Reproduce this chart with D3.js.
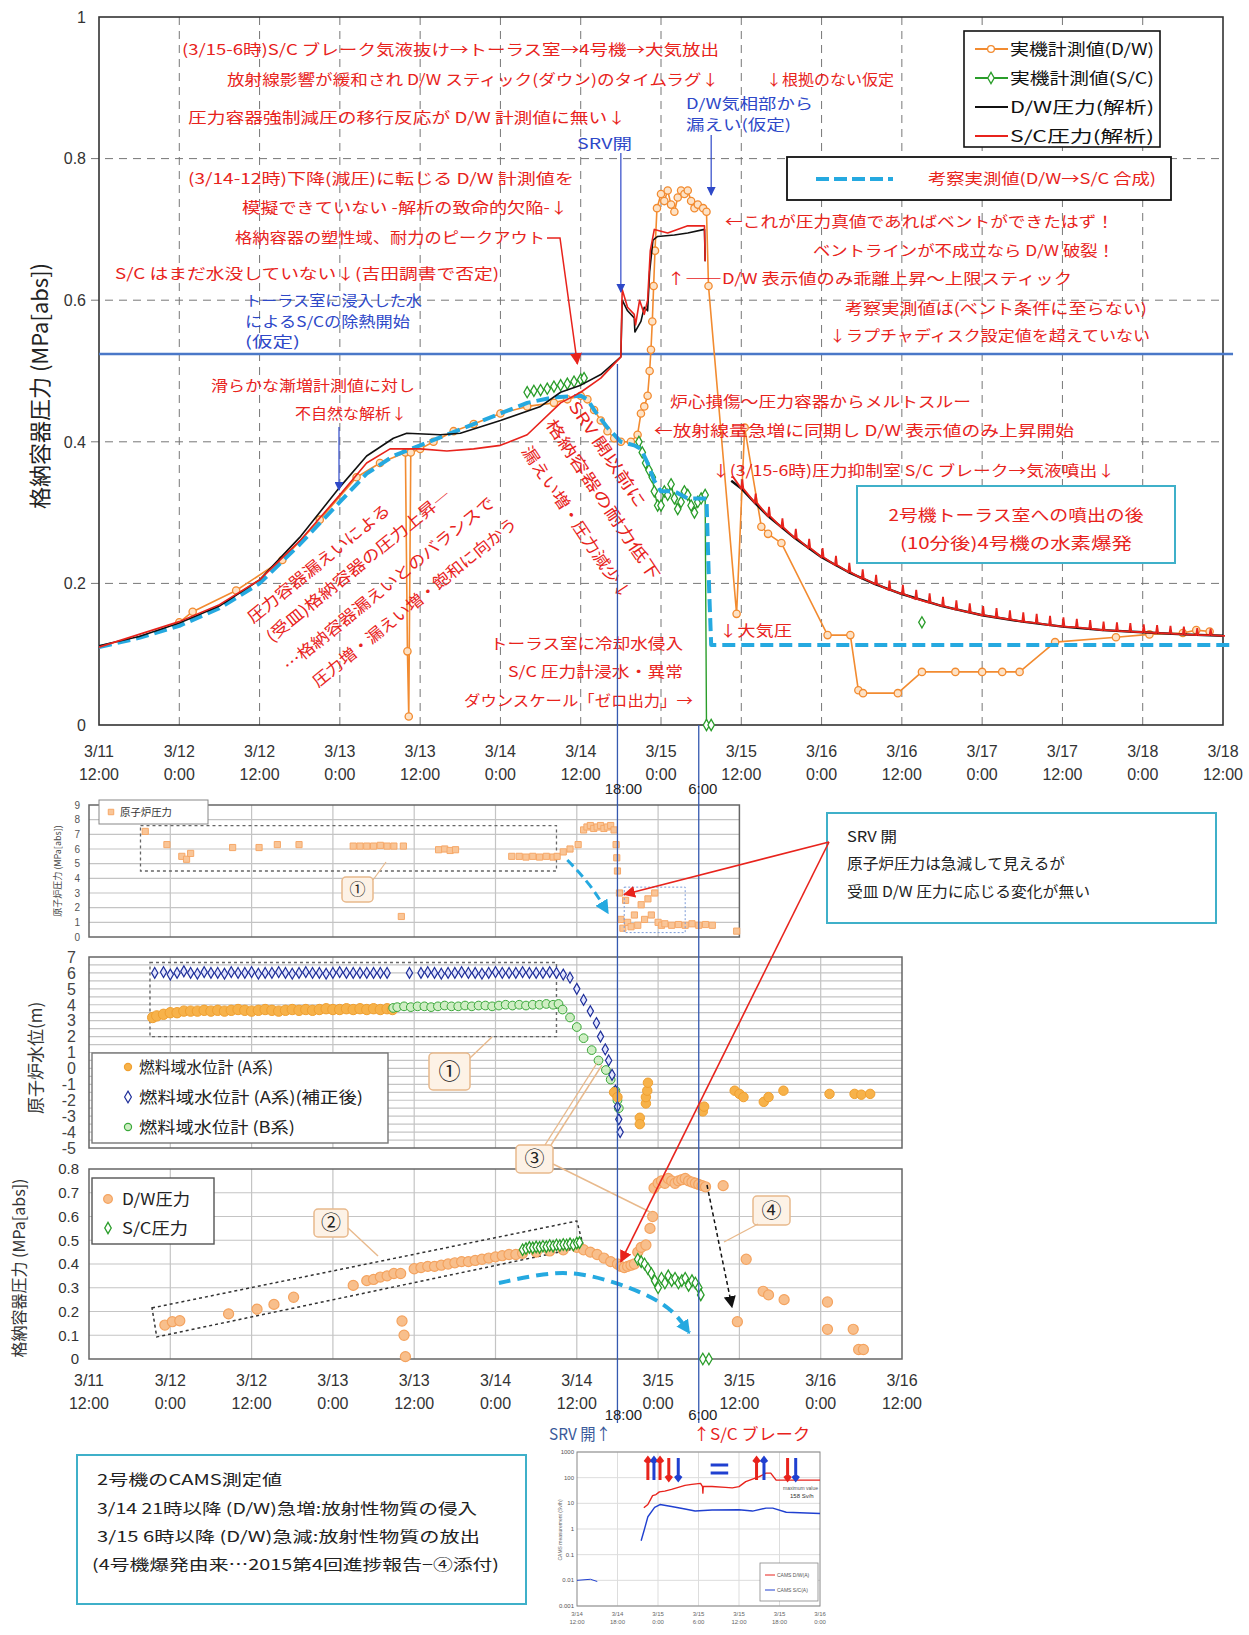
<!DOCTYPE html>
<html>
<head>
<meta charset="utf-8">
<script src="https://cdn.jsdelivr.net/npm/d3@7"></script>
<style>
body { margin: 0; background: #fff; }
svg text { font-family: "Noto Sans CJK JP", "Liberation Sans", sans-serif; }
svg text.num { font-family: "Liberation Sans", "Noto Sans CJK JP", sans-serif; }
</style>
</head>
<body>
<svg id="chart" width="1249" height="1635"></svg>
<script>
// time is in hours after 3/11 12:00
var tickLabels = [["3/11","12:00"],["3/12","0:00"],["3/12","12:00"],["3/13","0:00"],["3/13","12:00"],
  ["3/14","0:00"],["3/14","12:00"],["3/15","0:00"],["3/15","12:00"],["3/16","0:00"],["3/16","12:00"],
  ["3/17","0:00"],["3/17","12:00"],["3/18","0:00"],["3/18","12:00"]];
var mainYTicks = [0, 0.2, 0.4, 0.6, 0.8, 1];
var srvOpenT = 78, scBreakT = 90;
var ruptureDisk = 0.524;

// main chart: measured D/W (orange), measured S/C (green)
var dwMeas = [[12,0.145],[14,0.16],[20.5,0.19],[27.4,0.233],[33,0.29],[38.5,0.35],[42,0.37],[45.8,0.385],
  [46.1,0.104],[46.3,0.012],[46.6,0.385],[48,0.39],[50,0.40],[53,0.415],[56,0.425],[60,0.44],[64,0.45],
  [68,0.455],[70,0.46],[72,0.465],[73,0.46],[74,0.445],[75,0.43],[76,0.415],[77,0.405],[78,0.40],[79.5,0.40],
  [80.5,0.41],[81,0.44],[81.5,0.45],[82,0.465],[82.3,0.5],[82.5,0.53],[82.7,0.57],[82.9,0.62],[83.1,0.67],
  [83.4,0.73],[84,0.75],[84.5,0.74],[85,0.755],[85.5,0.735],[86,0.725],[86.5,0.745],[87,0.755],[87.5,0.75],
  [88,0.755],[88.5,0.74],[89,0.73],[89.5,0.735],[90.3,0.73],[90.8,0.725],[91.1,0.62],[95.3,0.157],[96.5,0.42],
  [99,0.28],[100,0.27],[102,0.257],[108.9,0.127],[112.3,0.127],[113.5,0.049],[114.2,0.045],[119.4,0.045],
  [123,0.075],[128,0.075],[132,0.075],[135,0.075],[137.6,0.075],[142.9,0.117],[152,0.124],[157,0.128],
  [162,0.13],[164,0.134],[166,0.132]];
var scMeasA = [[64,0.47],[65,0.472],[66,0.473],[67,0.475],[68,0.478],[69,0.48],[70,0.482],[71,0.485],[72,0.488],[72.5,0.49]];
var scMeasB = [[80.7,0.40],[81.2,0.385],[81.7,0.37],[82.2,0.36],[82.7,0.35],[83,0.33],[83.5,0.31],[84,0.31],
  [84.5,0.33],[85,0.325],[85.5,0.34],[86,0.32],[86.5,0.305],[87,0.315],[87.5,0.33],[88,0.325],[88.5,0.31],
  [89,0.30],[89.5,0.315],[90,0.32],[90.6,0.325],[90.8,0.0],[91.5,0.0]];
var scMeasIso = [[123,0.145]];
// analysis
var dwCalcA = [[0,0.112],[6,0.125],[12,0.144],[18,0.168],[24,0.205],[30,0.265],[36,0.336],[40,0.38],[44,0.405],
  [46,0.412],[51,0.41],[54,0.412],[60,0.43],[66,0.45],[69,0.47],[72,0.48],[75,0.495],[78,0.52],[78.2,0.60],
  [79,0.585],[80,0.575],[80.1,0.555],[81,0.57],[81.5,0.59],[82,0.585],[82.3,0.64],[82.8,0.685],[83.5,0.69],
  [86,0.692],[88,0.695],[90.5,0.70],[90.6,0.655]];
var dwCalcB = [[94.5,0.345],[96,0.334],[98,0.314],[100,0.295],[104,0.264],[108,0.237],[112,0.216],[116,0.199],
  [120,0.185],[126,0.168],[132,0.155],[138,0.146],[144,0.139],[150,0.134],[156,0.131],[162,0.128],[168,0.126]];
var scCalcA = [[0,0.11],[6,0.128],[12,0.146],[18,0.17],[24,0.205],[30,0.26],[36,0.325],[40,0.37],[43.5,0.39],
  [48,0.39],[52,0.387],[56,0.39],[60,0.395],[64,0.41],[69,0.455],[72,0.47],[75,0.49],[78,0.52],[78.2,0.615],
  [79,0.59],[80,0.58],[80.2,0.565],[80.8,0.6],[81.5,0.58],[82,0.6],[82.4,0.67],[83,0.70],[85,0.695],[88,0.705],
  [90.5,0.705],[90.6,0.655]];
// [t, low, spike top]
var scCalcDecay = [[94.5,0.35,0.35],[96,0.334,0.347],[98,0.314,0.327],[100,0.295,0.308],[102,0.279,0.292],
  [104,0.264,0.277],[106,0.250,0.263],[108,0.237,0.250],[110,0.226,0.239],[112,0.216,0.229],[114,0.207,0.220],
  [116,0.199,0.212],[118,0.191,0.204],[120,0.185,0.198],[122,0.178,0.191],[124,0.173,0.186],[126,0.168,0.181],
  [128,0.163,0.176],[130,0.159,0.172],[132,0.155,0.168],[134,0.152,0.165],[136,0.149,0.162],[138,0.146,0.159],
  [140,0.144,0.157],[142,0.141,0.154],[144,0.139,0.152],[146,0.138,0.150],[148,0.136,0.148],[150,0.134,0.146],
  [152,0.133,0.145],[154,0.132,0.144],[156,0.131,0.142],[158,0.130,0.141],[160,0.129,0.140],[162,0.128,0.139],
  [164,0.127,0.137],[166,0.127,0.136],[168,0.126,0.126]];
// inferred measured value (D/W -> S/C)
var inferred = [[0,0.11],[6,0.123],[12,0.14],[18,0.165],[24,0.2],[30,0.255],[36,0.315],[40,0.355],[44,0.38],
  [48,0.395],[52,0.41],[56,0.425],[60,0.44],[64,0.455],[68,0.463],[72,0.465],[73,0.46],[74,0.445],[76,0.42],
  [78,0.40],[80,0.395],[81,0.39],[82,0.37],[83,0.345],[84,0.33],[86,0.33],[88,0.32],[90.8,0.32],[91.2,0.19],
  [91.5,0.113],[169.5,0.113]];

// panel: reactor pressure
var rpvPressure = [[8.3,7.2],[11.5,6.3],[13.7,5.5],[14.4,5.3],[15,5.7],[21.2,6.1],[25.1,6.1],[27.8,6.3],[31,6.3],
  [39,6.2],[40,6.2],[41,6.2],[42,6.2],[43,6.25],[44,6.2],[45,6.2],[46.4,6.2],[46.1,1.4],
  [51.6,5.95],[52.5,6.0],[53.3,5.9],[54.1,5.95],
  [62.4,5.5],[63.5,5.5],[64.5,5.45],[65.5,5.5],[66.5,5.45],[67.5,5.5],[68.5,5.45],[69.1,5.5],[70,5.8],[71,6.0],[72.2,6.3],
  [73,7.3],[73.5,7.5],[74,7.6],[74.5,7.4],[75,7.5],[75.5,7.6],[76,7.4],[76.5,7.5],[77,7.6],[77.5,7.3],[77.8,6.3],
  [77.9,5.4],[78,4.5],[78.3,3.0],[78.5,1.2],[78.8,0.6],[79.2,2.5],[79.5,1.0],[80,0.7],[80.5,1.5],[81,0.8],
  [81.5,2.2],[82,1.2],[82.5,2.6],[83,1.5],[83.5,3.0],[84,1.0],[84.5,0.8],[85,0.9],[86,0.8],[87,0.85],[88,0.8],
  [89,0.9],[90,0.8],[91,0.85],[92,0.8],[95.6,0.4]];

// panel: reactor water level
var levelA = [[9.4,3.2],[10,3.3],[11,3.4],[12,3.5],[13,3.5],[14,3.6],[15,3.6],[16,3.6],[17,3.65],[18,3.6],
  [19,3.65],[20,3.6],[21,3.65],[22,3.7],[23,3.65],[24,3.6],[25,3.65],[26,3.7],[27,3.65],[28,3.6],[29,3.65],
  [30,3.7],[31,3.65],[32,3.7],[33,3.65],[34,3.7],[35,3.75],[36,3.7],[37,3.7],[38,3.75],[39,3.7],[40,3.75],
  [41,3.7],[42,3.75],[43,3.7],[44,3.75],[44.8,3.7]];
var levelAPost = [[77.5,-1.5],[78,-1.8],[81.3,-3.1],[81.3,-3.5],[82.2,-2.2],[82.2,-1.8],[82.4,-1.4],[82.5,-0.9],
  [90.6,-2.7],[90.8,-2.4],[95.3,-1.4],[96,-1.6],[96.6,-1.8],[99.6,-2.1],[100.3,-1.8],[102.5,-1.4],[109.3,-1.6],
  [113,-1.6],[114,-1.65],[115.3,-1.6]];
var levelACorr = [[9.7,6.0],[11,6.05],[12,5.9],[13,6.0],[14,6.1],[15,6.0],[16,5.95],[17,6.05],[18,6.0],[19,6.0],
  [20,5.95],[21,6.05],[22,6.0],[23,6.0],[24,6.05],[25,5.95],[26,6.0],[27,6.0],[28,6.05],[29,6.0],[30,5.95],
  [31,6.0],[32,6.05],[33,6.0],[34,6.0],[35,5.95],[36,6.0],[37,6.05],[38,6.0],[39,6.0],[40,6.0],[41,6.0],
  [42,6.0],[43,6.0],[44,6.0],[47.3,6.0],[49,6.0],[50,6.05],[51,6.0],[52,5.95],[53,6.0],[54,6.0],[55,6.05],
  [56,6.0],[57,6.0],[58,5.95],[59,6.0],[60,6.05],[61,6.0],[62,6.0],[63,6.0],[64,6.05],[65,6.0],[66,6.0],
  [67,6.0],[68,6.05],[69,6.0],[70,5.9],[71,5.7],[72,5.0],[73,4.3],[74,3.6],[74.9,2.85],[75.5,2.0],[76.2,1.2],
  [76.7,0.5],[77.2,-0.4],[77.7,-1.4],[78,-2.4],[78.2,-3.2],[78.4,-4.0]];
var levelB = [[44.9,3.8],[45.5,3.85],[46.5,3.9],[47.5,3.85],[48.5,3.9],[49.5,3.9],[50.5,3.85],[51.5,3.9],
  [52.5,3.95],[53.5,3.9],[54.5,3.9],[55.5,3.95],[56.5,3.9],[57.5,3.95],[58.5,3.95],[59.5,3.9],[60.5,3.95],
  [61.5,4.0],[62.5,3.95],[63.5,4.0],[64.5,3.95],[65.5,4.0],[66.5,4.0],[67.5,4.05],[68.5,4.0],[69.3,4.05],
  [69.9,3.7],[71,3.2],[72,2.6],[73,1.9],[74.2,1.15],[75.2,0.5],[76.3,-0.1],[77,-0.7],[77.7,-1.4],[78,-2.0],[78.2,-2.5]];

// panel: containment pressure
var cvDW = [[11.2,0.143],[12.3,0.157],[13.4,0.161],[20.6,0.19],[24.8,0.21],[27.3,0.23],[30.2,0.26],[39,0.31],
  [41,0.33],[42,0.335],[43,0.345],[44,0.35],[45,0.36],[46,0.36],[48,0.38],[49,0.385],[50,0.39],[51,0.39],
  [52,0.395],[53,0.40],[54,0.405],[55,0.41],[56,0.41],[57,0.415],[58,0.42],[59,0.425],[60,0.43],[61,0.435],
  [62,0.44],[63,0.44],[64,0.445],[66,0.45],[68,0.455],[70,0.46],[72,0.47],[73,0.46],[74,0.45],[75,0.44],
  [76,0.425],[77,0.41],[78,0.40],[78.5,0.39],[79,0.385],[79.5,0.39],[80,0.395],[80.5,0.40],[81,0.45],[81.5,0.47],
  [82.2,0.48],[82.8,0.55],[83.2,0.6],[83.4,0.72],[84,0.74],[84.5,0.75],[85,0.74],[85.5,0.76],[86,0.75],
  [86.5,0.74],[87,0.75],[87.5,0.755],[88,0.76],[88.5,0.75],[89,0.745],[89.5,0.74],[90,0.735],[90.5,0.73],
  [91,0.725],[93.6,0.73],[95.7,0.157],[97,0.42],[99.5,0.285],[100.3,0.27],[102.6,0.25],[109,0.24],[109,0.125],
  [112.8,0.125],[113.6,0.04],[114.3,0.04],[46.2,0.16],[46.5,0.10],[46.7,0.01]];
var cvSC = [[64,0.46],[64.5,0.465],[65,0.47],[65.5,0.468],[66,0.472],[66.5,0.47],[67,0.475],[67.5,0.473],
  [68,0.478],[68.5,0.475],[69,0.48],[69.5,0.478],[70,0.482],[70.5,0.48],[71,0.485],[71.5,0.48],[72,0.488],
  [72.4,0.49],[81,0.42],[81.5,0.41],[82,0.40],[82.5,0.38],[83,0.36],[83.5,0.33],[84,0.30],[84.5,0.34],
  [85,0.32],[85.5,0.35],[86,0.33],[86.5,0.34],[87,0.32],[87.5,0.33],[88,0.34],[88.5,0.31],[89,0.33],
  [89.5,0.32],[90,0.30],[90.3,0.27],[90.6,0.0],[91.5,0.0]];
var cvInferred = [[60.5,0.32],[67.3,0.362],[72.5,0.366],[80,0.303],[86,0.219],[88.6,0.11]];

// CAMS inset: hours after 3/14 12:00, Sv/h
var camsTickLabels = [["3/14","12:00"],["3/14","18:00"],["3/15","0:00"],["3/15","6:00"],["3/15","12:00"],["3/15","18:00"],["3/16","0:00"]];
var camsYTicks = [0.001, 0.01, 0.1, 1, 10, 100, 1000];
var camsDW = [[9.9,6.7],[10.5,9],[11.2,20],[11.7,22],[12.2,28],[13,30],[14,35],[15,42],[16,50],[17,55],
  [18.3,60],[18.6,45],[18.65,25],[18.7,45],[20,45],[22,42],[23,40],[24,45],[25,70],[27,110],[28,150],
  [28.7,150],[29.5,80],[31,80],[36,80]];
var camsSCEarly = [[0,0.01],[2,0.011],[3,0.009]];
var camsSC = [[9.5,0.35],[10,1],[10.5,3],[11.5,7],[12.3,9],[14,7.5],[16,6],[17.5,5],[20,5.5],[24,5.6],
  [26,5],[28,6.5],[29,6.5],[31,4.5],[36,4]];
var camsArrows = [[10.5,1,"#e8231c"],[11.4,1,"#2040d0"],[12.3,1,"#e8231c"],[13.6,-1,"#e8231c"],[15,-1,"#2040d0"],
  [26.6,1,"#e8231c"],[27.7,1,"#2040d0"],[31.2,-1,"#e8231c"],[32.4,-1,"#2040d0"]];

var RED = "#e8231c", BLUE = "#2e48c8", ORANGE = "#f28b30", GREEN = "#2a9d2a", CYAN = "#25a9e0", BOX = "#3fb0c9";

var svg = d3.select("#chart");
var defs = svg.append("defs");
function arrowMarker(id, color, size) {
  defs.append("marker").attr("id", id).attr("viewBox", "0 0 10 10")
      .attr("refX", 9).attr("refY", 5).attr("markerWidth", size).attr("markerHeight", size)
      .attr("markerUnits", "userSpaceOnUse").attr("orient", "auto")
    .append("path").attr("d", "M0,0L10,5L0,10z").attr("fill", color);
}
arrowMarker("arRed", RED, 12);
arrowMarker("arBlue", BLUE, 9);
arrowMarker("arBlack", "#111", 12);
arrowMarker("arCyan", CYAN, 14);

function note(g, txt, x, cy, w, color, size, anchor, cls) {
  var t = g.append("text").attr("x", x).attr("y", cy).attr("dy", "0.36em")
      .attr("fill", color).attr("font-size", size).text(txt);
  if (w) t.attr("textLength", w).attr("lengthAdjust", "spacingAndGlyphs");
  if (anchor) t.attr("text-anchor", anchor);
  if (cls) t.attr("class", cls);
  return t;
}
function rotNote(g, txt, x, y, angle, w, color, size) {
  g.append("text").attr("transform", "translate(" + x + "," + y + ") rotate(" + angle + ")")
      .attr("fill", color).attr("font-size", size)
      .attr("textLength", w).attr("lengthAdjust", "spacingAndGlyphs").text(txt);
}
function drawLine(g, data, xs, ys, color, width, dash) {
  var p = g.append("path").datum(data).attr("fill", "none").attr("stroke", color)
      .attr("stroke-width", width).attr("stroke-linejoin", "round")
      .attr("d", d3.line().x(function(d) { return xs(d[0]); }).y(function(d) { return ys(d[1]); }));
  if (dash) p.attr("stroke-dasharray", dash);
  return p;
}
function drawDots(g, data, xs, ys, type, size, stroke, fill, sw) {
  g.selectAll(null).data(data).enter().append("path")
      .attr("transform", function(d) { return "translate(" + xs(d[0]) + "," + ys(d[1]) + ")"; })
      .attr("d", d3.symbol().type(type).size(size))
      .attr("fill", fill).attr("stroke", stroke).attr("stroke-width", sw || 1);
}
function box(g, x, y, w, h, color, width, rx) {
  return g.append("rect").attr("x", x).attr("y", y).attr("width", w).attr("height", h)
      .attr("rx", rx || 0).attr("fill", "#fff").attr("stroke", color).attr("stroke-width", width);
}
function arrow(g, pts, color, width, marker, dash) {
  var p = g.append("path").attr("d", d3.line()(pts)).attr("fill", "none")
      .attr("stroke", color).attr("stroke-width", width);
  if (marker) p.attr("marker-end", "url(#" + marker + ")");
  if (dash) p.attr("stroke-dasharray", dash);
}

// ================= main chart =================
var xMain = d3.scaleLinear().domain([0, 168]).range([99, 1223]);
var yMain = d3.scaleLinear().domain([0, 1]).range([725, 17]);
var gMain = svg.append("g");

gMain.selectAll("line.vg").data(d3.range(12, 168, 12)).enter().append("line")
    .attr("x1", function(d) { return xMain(d); }).attr("x2", function(d) { return xMain(d); })
    .attr("y1", yMain(1)).attr("y2", yMain(0) + 6)
    .attr("stroke", "#777").attr("stroke-dasharray", "8,6");
gMain.selectAll("line.hg").data([0.2, 0.4, 0.6, 0.8]).enter().append("line")
    .attr("x1", xMain(0) - 8).attr("x2", xMain(168))
    .attr("y1", function(d) { return yMain(d); }).attr("y2", function(d) { return yMain(d); })
    .attr("stroke", "#777").attr("stroke-dasharray", "8,6");
gMain.append("rect").attr("x", xMain(0)).attr("y", yMain(1)).attr("width", xMain(168) - xMain(0))
    .attr("height", yMain(0) - yMain(1)).attr("fill", "none").attr("stroke", "#333").attr("stroke-width", 1.6);

gMain.selectAll("text.yt").data(mainYTicks).enter().append("text").attr("class", "num")
    .attr("x", 86).attr("y", function(d) { return yMain(d); }).attr("dy", "0.36em")
    .attr("text-anchor", "end").attr("font-size", 16).attr("fill", "#333").text(function(d) { return d; });
tickLabels.forEach(function(l, i) {
  note(gMain, l[0], xMain(i * 12), 751, null, "#333", 16, "middle", "num");
  note(gMain, l[1], xMain(i * 12), 774, null, "#333", 16, "middle", "num");
});
gMain.append("text").attr("transform", "translate(40,386) rotate(-90)").attr("text-anchor", "middle")
    .attr("dy", "0.36em").attr("font-size", 22).attr("fill", "#222").text("格納容器圧力 (MPa[abs])");

// rupture disk level
gMain.append("line").attr("x1", xMain(0)).attr("x2", xMain(169.5))
    .attr("y1", yMain(ruptureDisk)).attr("y2", yMain(ruptureDisk))
    .attr("stroke", "#4a78c8").attr("stroke-width", 2.5);

drawLine(gMain, dwMeas, xMain, yMain, ORANGE, 1.6);
drawDots(gMain, dwMeas, xMain, yMain, d3.symbolCircle, 42, ORANGE, "#fde2c6", 1.3);
drawLine(gMain, scMeasA, xMain, yMain, GREEN, 1.4);
drawLine(gMain, scMeasB, xMain, yMain, GREEN, 1.4);
drawDots(gMain, scMeasA.concat(scMeasB, scMeasIso), xMain, yMain, d3.symbolDiamond, 36, GREEN, "#fff", 1.3);
drawLine(gMain, inferred, xMain, yMain, CYAN, 4, "13,6");
drawLine(gMain, dwCalcA, xMain, yMain, "#111", 1.6);
drawLine(gMain, dwCalcB, xMain, yMain, "#111", 2.4);
drawLine(gMain, scCalcA, xMain, yMain, RED, 1.6);
gMain.append("path").datum(scCalcDecay).attr("fill", "none").attr("stroke", RED).attr("stroke-width", 1.8)
    .attr("d", function(d) {
      var s = "";
      d.forEach(function(p, i) {
        s += (i ? "L" : "M") + xMain(p[0]) + "," + yMain(p[1]);
        s += "L" + xMain(p[0] + 0.15) + "," + yMain(p[2]) + "L" + xMain(p[0] + 0.3) + "," + yMain(p[1]);
      });
      return s;
    });

// legends
box(gMain, 964, 31, 196, 116, "#111", 1.6);
var legendItems = [["実機計測値(D/W)", ORANGE, d3.symbolCircle], ["実機計測値(S/C)", GREEN, d3.symbolDiamond],
  ["D/W圧力(解析)", "#111", null], ["S/C圧力(解析)", RED, null]];
legendItems.forEach(function(it, i) {
  var cy = 49 + i * 29;
  gMain.append("line").attr("x1", 975).attr("x2", 1008).attr("y1", cy).attr("y2", cy)
      .attr("stroke", it[1]).attr("stroke-width", 2);
  if (it[2]) drawDots(gMain, [[0, 0]], function() { return 991; }, function() { return cy; }, it[2], 36, it[1], "#fff", 1.3);
  note(gMain, it[0], 1010, cy, 144, "#111", 16);
});
box(gMain, 787, 157, 384, 43, "#111", 1.8);
gMain.append("line").attr("x1", 816).attr("x2", 893).attr("y1", 179).attr("y2", 179)
    .attr("stroke", CYAN).attr("stroke-width", 4).attr("stroke-dasharray", "13,5");
note(gMain, "考察実測値(D/W→S/C 合成)", 928, 179, 228, RED, 15);

// red notes
var redNotes = [
  ["(3/15-6時)S/C ブレーク気液抜け→トーラス室→4号機→大気放出", 182, 50, 537],
  ["放射線影響が緩和され D/W スティック(ダウン)のタイムラグ↓", 227, 80, 492],
  ["↓根拠のない仮定", 766, 80, 128],
  ["圧力容器強制減圧の移行反応が D/W 計測値に無い↓", 188, 118, 438],
  ["(3/14-12時)下降(減圧)に転じる D/W 計測値を", 188, 179, 386],
  ["模擬できていない -解析の致命的欠陥-↓", 242, 208, 326],
  ["格納容器の塑性域、耐力のピークアウト", 235, 238, 310],
  ["S/C はまだ水没していない↓(吉田調書で否定)", 115, 274, 384],
  ["←これが圧力真値であればベントができたはず！", 725, 222, 389],
  ["ベントラインが不成立なら D/W 破裂！", 813, 251, 302],
  ["↑――D/W 表示値のみ乖離上昇〜上限スティック", 667, 279, 405],
  ["考察実測値は(ベント条件に至らない)", 845, 309, 302],
  ["↓ラプチャディスク設定値を超えていない", 829, 336, 321],
  ["滑らかな漸増計測値に対し", 211, 386, 204],
  ["不自然な解析↓", 295, 414, 112],
  ["炉心損傷〜圧力容器からメルトスルー", 670, 402, 301],
  ["←放射線量急増に同期し D/W 表示値のみ上昇開始", 654, 431, 420],
  ["↓(3/15-6時)圧力抑制室 S/C ブレーク→気液噴出↓", 712, 471, 403],
  ["トーラス室に冷却水侵入", 490, 644, 193],
  ["S/C 圧力計浸水・異常", 508, 672, 175],
  ["ダウンスケール「ゼロ出力」→", 464, 701, 229],
  ["↓大気圧", 719, 631, 73]
];
redNotes.forEach(function(n) { note(gMain, n[0], n[1], n[2], n[3], RED, 15); });
var blueNotes = [
  ["SRV開", 577, 144, 55], ["D/W気相部から", 686, 104, 127], ["漏えい(仮定)", 686, 125, 105],
  ["トーラス室に浸入した水", 245, 301, 177], ["によるS/Cの除熱開始", 245, 322, 165], ["(仮定)", 245, 342, 55]
];
blueNotes.forEach(function(n) { note(gMain, n[0], n[1], n[2], n[3], BLUE, 14.5); });

rotNote(gMain, "圧力容器漏えいによる", 253, 624, -39, 178, RED, 16);
rotNote(gMain, "(受皿)格納容器の圧力上昇―", 272, 643, -39, 232, RED, 16);
rotNote(gMain, "…格納容器漏えいとのバランスで", 289, 672, -39, 266, RED, 16);
rotNote(gMain, "圧力増・漏えい増・飽和に向かう", 318, 688, -39, 258, RED, 16);
rotNote(gMain, "SRV 開以前に", 568, 406, 56, 124, RED, 16);
rotNote(gMain, "格納容器の耐力低下", 545, 424, 56, 190, RED, 16);
rotNote(gMain, "漏えい増・圧力減少↓", 521, 451, 56, 180, RED, 16);

box(gMain, 857, 486, 318, 77, BOX, 2);
note(gMain, "2号機トーラス室への噴出の後", 1016, 515, 255, RED, 16, "middle");
note(gMain, "(10分後)4号機の水素爆発", 1016, 543, 232, RED, 16, "middle");

// annotation arrows
arrow(gMain, [[547, 238], [560, 238], [xMain(71.5), yMain(0.51)]], RED, 1.5, "arRed");
arrow(gMain, [[339, 427], [339, 490]], BLUE, 1.2, "arBlue");
arrow(gMain, [[xMain(srvOpenT), 153], [xMain(srvOpenT), 292]], BLUE, 1.2, "arBlue");
arrow(gMain, [[xMain(91.5), 135], [xMain(91.5), 195]], BLUE, 1.2, "arBlue");

// ================= lower panels =================
var xLow = d3.scaleLinear().domain([0, 120]).range([89, 902]);
var gLow = svg.append("g");
var GRID = "#c4c4c4";

function panelGrid(g, yScale, yVals, tEnd) {
  g.selectAll(null).data(yVals).enter().append("line")
      .attr("x1", xLow(0)).attr("x2", xLow(tEnd))
      .attr("y1", function(d) { return yScale(d); }).attr("y2", function(d) { return yScale(d); })
      .attr("stroke", GRID).attr("stroke-width", 1.2);
  g.selectAll(null).data(d3.range(12, tEnd, 12)).enter().append("line")
      .attr("x1", function(d) { return xLow(d); }).attr("x2", function(d) { return xLow(d); })
      .attr("y1", yScale.range()[1]).attr("y2", yScale.range()[0])
      .attr("stroke", GRID).attr("stroke-width", 1.2);
  g.append("rect").attr("x", xLow(0)).attr("y", yScale.range()[1]).attr("width", xLow(tEnd) - xLow(0))
      .attr("height", yScale.range()[0] - yScale.range()[1]).attr("fill", "none")
      .attr("stroke", "#666").attr("stroke-width", 1.5);
}
function callout(g, label, x, y, w, h, size) {
  g.append("rect").attr("x", x).attr("y", y).attr("width", w).attr("height", h).attr("rx", 4)
      .attr("fill", "#fdf2e6").attr("stroke", "#e8b98c").attr("stroke-width", 1.5);
  note(g, label, x + w / 2, y + h / 2, null, "#222", size, "middle");
}

// reactor pressure panel
var y2 = d3.scaleLinear().domain([0, 9]).range([937, 805]);
var g2 = gLow.append("g");
panelGrid(g2, y2, d3.range(1, 9), 96);
g2.selectAll(null).data(d3.range(0, 10)).enter().append("text").attr("class", "num")
    .attr("x", 80).attr("y", function(d) { return y2(d); }).attr("dy", "0.36em")
    .attr("text-anchor", "end").attr("font-size", 10).attr("fill", "#555").text(function(d) { return d; });
g2.append("text").attr("transform", "translate(58,871) rotate(-90)").attr("text-anchor", "middle")
    .attr("dy", "0.36em").attr("font-size", 9).attr("fill", "#444").text("原子炉圧力 (MPa[abs])");
g2.append("path").attr("d", d3.line()([[xLow(7.6), y2(7.6)], [xLow(69), y2(7.6)], [xLow(69), y2(4.5)], [xLow(7.6), y2(4.5)]]) + "Z")
    .attr("fill", "none").attr("stroke", "#666").attr("stroke-width", 1.3).attr("stroke-dasharray", "3,3");
drawDots(g2, rpvPressure, xLow, y2, d3.symbolSquare, 38, "#f6a868", "#f9c597", 1);
box(g2, 99, 800, 109, 24, "#888", 1);
drawDots(g2, [[0, 0]], function() { return 111; }, function() { return 812; }, d3.symbolSquare, 30, "#f6a868", "#f9c597", 1);
note(g2, "原子炉圧力", 120, 812, 52, "#333", 10);
callout(g2, "①", 342, 877, 31, 25, 16);
arrow(g2, [[373, 880], [386, 862]], "#e8b98c", 1.2);
g2.append("path").attr("d", d3.line().curve(d3.curveBasis)([[xLow(70.6), y2(5.25)], [xLow(74), y2(3.6)], [xLow(76.6), y2(1.64)]]))
    .attr("fill", "none").attr("stroke", CYAN).attr("stroke-width", 3).attr("stroke-dasharray", "9,5")
    .attr("marker-end", "url(#arCyan)");
g2.append("rect").attr("x", xLow(79)).attr("y", y2(3.4)).attr("width", xLow(88) - xLow(79))
    .attr("height", y2(0.3) - y2(3.4)).attr("fill", "none").attr("stroke", "#7c9cd8")
    .attr("stroke-width", 1).attr("stroke-dasharray", "2,2");

// water level panel
var y3 = d3.scaleLinear().domain([-5, 7]).range([1148, 957]);
var g3 = gLow.append("g");
panelGrid(g3, y3, d3.range(-4.5, 7, 0.5), 120);
g3.selectAll(null).data(d3.range(-5, 8)).enter().append("text").attr("class", "num")
    .attr("x", 76).attr("y", function(d) { return y3(d); }).attr("dy", "0.36em")
    .attr("text-anchor", "end").attr("font-size", 16).attr("fill", "#444").text(function(d) { return d; });
g3.append("text").attr("transform", "translate(36,1058) rotate(-90)").attr("text-anchor", "middle")
    .attr("dy", "0.36em").attr("font-size", 17).attr("fill", "#333").text("原子炉水位(m)");
g3.append("path").attr("d", d3.line()([[xLow(9), y3(6.65)], [xLow(69), y3(6.65)], [xLow(69), y3(2.0)], [xLow(9), y3(2.0)]]) + "Z")
    .attr("fill", "none").attr("stroke", "#666").attr("stroke-width", 1.4).attr("stroke-dasharray", "3,3");
drawDots(g3, levelA, xLow, y3, d3.symbolCircle, 85, "#f0a030", "#f7b24a", 1);
drawDots(g3, levelB, xLow, y3, d3.symbolCircle, 60, "#3aa83a", "#cfeec4", 1);
drawDots(g3, levelACorr, xLow, y3, d3.symbolDiamond, 34, "#1f2f9a", "#e3e6ff", 1.2);
drawDots(g3, levelAPost, xLow, y3, d3.symbolCircle, 70, "#f0a030", "#f7b24a", 1);
box(g3, 92, 1053, 296, 90, "#777", 1.4);
var lvLegend = [["燃料域水位計 (A系)", "#f0a030", "#f7b24a", d3.symbolCircle, 134],
  ["燃料域水位計 (A系)(補正後)", "#1f2f9a", "#fff", d3.symbolDiamond, 224],
  ["燃料域水位計 (B系)", "#3aa83a", "#cfeec4", d3.symbolCircle, 156]];
lvLegend.forEach(function(it, i) {
  var cy = 1067 + i * 30;
  drawDots(g3, [[0, 0]], function() { return 128; }, function() { return cy; }, it[3], 40, it[1], it[2], 1.2);
  note(g3, it[0], 139, cy, it[4], "#222", 16);
});
callout(g3, "①", 429, 1053, 41, 37, 22);
arrow(g3, [[470, 1058], [492, 1037]], "#e8b98c", 1.4);

// containment pressure panel
var y4 = d3.scaleLinear().domain([0, 0.8]).range([1359, 1169]);
var g4 = gLow.append("g");
panelGrid(g4, y4, d3.range(0.1, 0.8, 0.1), 120);
g4.selectAll(null).data(d3.range(0, 9)).enter().append("text").attr("class", "num")
    .attr("x", 79).attr("y", function(d) { return y4(d / 10); }).attr("dy", "0.36em")
    .attr("text-anchor", "end").attr("font-size", 15).attr("fill", "#333")
    .text(function(d) { return d === 0 ? "0" : (d / 10).toFixed(1); });
g4.append("text").attr("transform", "translate(19,1268) rotate(-90)").attr("text-anchor", "middle")
    .attr("dy", "0.36em").attr("font-size", 16).attr("fill", "#333").text("格納容器圧力 (MPa[abs])");
tickLabels.slice(0, 11).forEach(function(l, i) {
  note(g4, l[0], xLow(i * 12), 1380, null, "#333", 16, "middle", "num");
  note(g4, l[1], xLow(i * 12), 1403, null, "#333", 16, "middle", "num");
});
g4.append("path").attr("d", d3.line()([[xLow(9.3), y4(0.215)], [xLow(72), y4(0.581)], [xLow(73), y4(0.472)], [xLow(10), y4(0.093)]]) + "Z")
    .attr("fill", "none").attr("stroke", "#333").attr("stroke-width", 1.5).attr("stroke-dasharray", "3,3");
g4.append("path").datum(cvInferred).attr("fill", "none").attr("stroke", CYAN).attr("stroke-width", 4)
    .attr("stroke-dasharray", "12,7").attr("marker-end", "url(#arCyan)")
    .attr("d", d3.line().curve(d3.curveBasis).x(function(d) { return xLow(d[0]); }).y(function(d) { return y4(d[1]); }));
drawDots(g4, cvDW, xLow, y4, d3.symbolCircle, 80, "#f4a35f", "#f8bf8c", 1.2);
drawDots(g4, cvSC, xLow, y4, d3.symbolDiamond, 38, GREEN, "#fff", 1.3);
box(g4, 92, 1178, 122, 66, "#555", 1.4);
drawDots(g4, [[0, 0]], function() { return 108; }, function() { return 1199; }, d3.symbolCircle, 60, "#f4a35f", "#f8bf8c", 1.2);
note(g4, "D/W圧力", 122, 1199, 68, "#222", 16);
drawDots(g4, [[0, 0]], function() { return 108; }, function() { return 1228; }, d3.symbolDiamond, 36, GREEN, "#fff", 1.3);
note(g4, "S/C圧力", 122, 1228, 66, "#222", 16);
callout(g4, "②", 314, 1209, 34, 28, 20);
arrow(g4, [[348, 1228], [378, 1256]], "#e8b98c", 1.4);
callout(g4, "③", 516, 1145, 37, 28, 20);
arrow(g4, [[545, 1145], [597, 1063]], "#e8b98c", 1.4);
arrow(g4, [[551, 1145], [602, 1065]], "#e8b98c", 1.4);
arrow(g4, [[553, 1164], [652, 1213]], "#e8b98c", 1.4);
callout(g4, "④", 753, 1196, 37, 29, 20);
arrow(g4, [[758, 1224], [724, 1242]], "#e8b98c", 1.4);
arrow(g4, [[707, 1185], [732, 1307]], "#111", 1.5, "arBlack", "4,3");

// event lines across panels
var gEv = svg.append("g");
gEv.append("line").attr("x1", xLow(srvOpenT)).attr("x2", xLow(srvOpenT)).attr("y1", yMain(0.51)).attr("y2", 1423)
    .attr("stroke", "#3559b0").attr("stroke-width", 1.3);
gEv.append("line").attr("x1", xLow(scBreakT)).attr("x2", xLow(scBreakT)).attr("y1", yMain(0)).attr("y2", 1423)
    .attr("stroke", "#3559b0").attr("stroke-width", 1.3);
note(gEv, "18:00", xLow(srvOpenT) + 6, 789, null, "#222", 15, "middle", "num");
note(gEv, "6:00", xLow(scBreakT) + 4, 789, null, "#222", 15, "middle", "num");
note(gEv, "18:00", xLow(srvOpenT) + 6, 1415, null, "#222", 15, "middle", "num");
note(gEv, "6:00", xLow(scBreakT) + 4, 1415, null, "#222", 15, "middle", "num");
note(gEv, "SRV 開↑", 549, 1434, 62, "#3a5a9a", 16);
note(gEv, "↑S/C ブレーク", 693, 1434, 117, RED, 16);

// SRV box with arrows
box(gEv, 827, 813, 389, 110, BOX, 2);
note(gEv, "SRV 開", 847, 837, 50, "#222", 15);
note(gEv, "原子炉圧力は急減して見えるが", 847, 864, 218, "#222", 15);
note(gEv, "受皿 D/W 圧力に応じる変化が無い", 847, 892, 243, "#222", 15);
arrow(gEv, [[829, 842], [xLow(79), y2(2.9)]], RED, 1.6, "arRed");
arrow(gEv, [[829, 842], [xLow(78.5), y4(0.41)]], RED, 1.6, "arRed");

// CAMS text box
box(gEv, 77, 1455, 449, 149, BOX, 2);
note(gEv, "2号機のCAMS測定値", 97, 1480, 185, "#222", 15);
note(gEv, "3/14 21時以降 (D/W)急増:放射性物質の侵入", 97, 1509, 380, "#222", 15);
note(gEv, "3/15  6時以降 (D/W)急減:放射性物質の放出", 97, 1537, 383, "#222", 15);
note(gEv, "(4号機爆発由来…2015第4回進捗報告−④添付)", 92, 1565, 407, "#222", 15);

// ================= CAMS inset =================
var xC = d3.scaleLinear().domain([0, 36]).range([577, 820]);
var yC = d3.scaleLog().domain([0.001, 1000]).range([1606, 1452]);
var gC = svg.append("g");
gC.selectAll(null).data(camsYTicks).enter().append("line")
    .attr("x1", xC(0)).attr("x2", xC(36)).attr("y1", function(d) { return yC(d); }).attr("y2", function(d) { return yC(d); })
    .attr("stroke", "#ddd");
gC.selectAll(null).data(d3.range(6, 36, 6)).enter().append("line")
    .attr("x1", function(d) { return xC(d); }).attr("x2", function(d) { return xC(d); })
    .attr("y1", yC(1000)).attr("y2", yC(0.001)).attr("stroke", "#ddd");
gC.append("rect").attr("x", xC(0)).attr("y", yC(1000)).attr("width", xC(36) - xC(0))
    .attr("height", yC(0.001) - yC(1000)).attr("fill", "none").attr("stroke", "#888");
gC.selectAll(null).data(camsYTicks).enter().append("text").attr("class", "num")
    .attr("x", xC(0) - 3).attr("y", function(d) { return yC(d); }).attr("dy", "0.36em")
    .attr("text-anchor", "end").attr("font-size", 6).attr("fill", "#555").text(function(d) { return d; });
camsTickLabels.forEach(function(l, i) {
  note(gC, l[0], xC(i * 6), 1614, null, "#666", 6, "middle", "num");
  note(gC, l[1], xC(i * 6), 1622, null, "#666", 6, "middle", "num");
});
gC.append("text").attr("class", "num").attr("transform", "translate(562,1530) rotate(-90)").attr("text-anchor", "middle")
    .attr("font-size", 5).attr("fill", "#666").text("CAMS measurement (Sv/h)");
drawLine(gC, camsDW, xC, yC, RED, 1.4);
drawLine(gC, camsSC, xC, yC, "#2040d0", 1.4);
drawLine(gC, camsSCEarly, xC, yC, "#2040d0", 1);
note(gC, "maximum value", 783, 1488, null, "#555", 5, null, "num");
note(gC, "158 Sv/h", 790, 1496, null, "#333", 6, null, "num");
gC.selectAll(null).data(camsArrows).enter().append("path")
    .attr("d", function(d) {
      var x = xC(d[0]), y0 = d[1] > 0 ? 1480 : 1458, y1 = d[1] > 0 ? 1458 : 1480;
      return "M" + x + "," + y0 + "L" + x + "," + y1 + "M" + (x - 3) + "," + (y1 + 4 * d[1]) + "L" + x + "," + y1 + "L" + (x + 3) + "," + (y1 + 4 * d[1]);
    })
    .attr("stroke", function(d) { return d[2]; }).attr("stroke-width", 3).attr("fill", "none");
gC.append("path").attr("d", "M" + xC(19.8) + ",1465L" + xC(22.4) + ",1465M" + xC(19.8) + ",1473L" + xC(22.4) + ",1473")
    .attr("stroke", "#2040d0").attr("stroke-width", 3);
box(gC, 760, 1563, 58, 38, "#888", 0.8);
gC.append("line").attr("x1", 765).attr("x2", 775).attr("y1", 1575).attr("y2", 1575).attr("stroke", RED);
note(gC, "CAMS D/W(A)", 777, 1575, null, "#555", 5, null, "num");
gC.append("line").attr("x1", 765).attr("x2", 775).attr("y1", 1590).attr("y2", 1590).attr("stroke", "#2040d0");
note(gC, "CAMS S/C(A)", 777, 1590, null, "#555", 5, null, "num");
</script>
</body>
</html>
